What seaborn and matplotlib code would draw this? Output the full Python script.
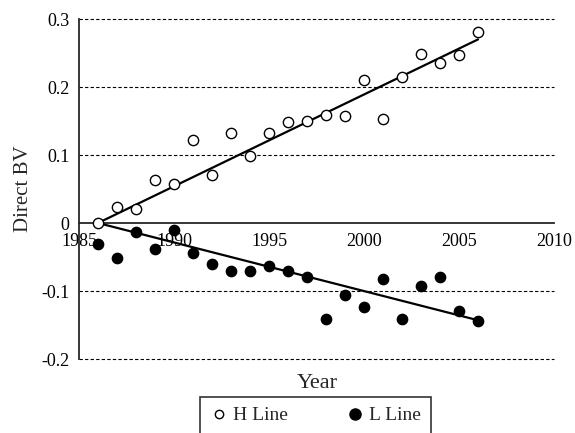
import matplotlib
matplotlib.use("Agg")
import matplotlib.pyplot as plt
import seaborn as sns
import pandas as pd
from matplotlib.lines import Line2D

# data
years = list(range(1986, 2007))
h_line = [0.000, 0.023, 0.021, 0.063, 0.058, 0.122, 0.070, 0.133, 0.099, 0.132,
          0.148, 0.150, 0.159, 0.157, 0.211, 0.153, 0.214, 0.248, 0.236, 0.247, 0.281]
l_line = [-0.031, -0.052, -0.013, -0.038, -0.010, -0.044, -0.061, -0.071, -0.070, -0.063,
          -0.070, -0.079, -0.141, -0.106, -0.123, -0.083, -0.141, -0.092, -0.079, -0.129, -0.144]

trend_years = [1986, 2006]
h_trend = [0.0, 0.270]
l_trend = [0.0, -0.143]

x_ticks = [1985, 1990, 1995, 2000, 2005, 2010]
y_ticks = [-0.2, -0.1, 0.0, 0.1, 0.2, 0.3]
y_tick_labels = ['-0.2', '-0.1', '0', '0.1', '0.2', '0.3']

sns.set_style("white")
plt.rcParams['font.family'] = ['Liberation Serif', 'DejaVu Serif']

df = pd.DataFrame({'Year': years, 'H Line': h_line, 'L Line': l_line})
trend = pd.DataFrame({'Year': trend_years, 'H': h_trend, 'L': l_trend})

fig = plt.figure(figsize=(5.75, 4.33), dpi=100)
ax = fig.add_axes([0.1374, 0.1709, 0.8261, 0.7852])

# dashed gridlines (not at zero, the x axis sits there)
for v in y_ticks:
    if v != 0:
        ax.axhline(v, color='black', lw=0.8, ls=(0, (3, 2)), zorder=0, clip_on=False)

sns.lineplot(data=trend, x='Year', y='H', color='black', lw=1.6, ax=ax, zorder=2)
sns.lineplot(data=trend, x='Year', y='L', color='black', lw=1.6, ax=ax, zorder=2)

sns.scatterplot(data=df, x='Year', y='H Line', s=55, facecolor='white',
                edgecolor='black', linewidth=1.0, ax=ax, zorder=3)
sns.scatterplot(data=df, x='Year', y='L Line', s=55, color='black',
                edgecolor='black', linewidth=1.0, ax=ax, zorder=3)

ax.set_xlim(1985, 2010)
ax.set_ylim(-0.2, 0.3)
ax.set_xticks(x_ticks)
ax.set_yticks(y_ticks)
ax.set_yticklabels(y_tick_labels)

ax.spines['top'].set_visible(False)
ax.spines['right'].set_visible(False)
ax.spines['bottom'].set_position(('data', 0))
ax.spines['bottom'].set_linewidth(1.3)
ax.spines['left'].set_linewidth(1.3)
ax.spines['bottom'].set_zorder(1)
ax.tick_params(axis='both', direction='out', length=4, width=1.2,
               labelsize=13, colors='black')
ax.tick_params(axis='y', pad=3)
ax.tick_params(axis='x', pad=3)

ax.set_xlabel('')
ax.set_ylabel('Direct BV', fontsize=15, labelpad=6)
fig.text(0.551, 0.115, 'Year', fontsize=16, ha='center', va='center')

handles = [
    Line2D([], [], marker='o', ls='none', markersize=6, markerfacecolor='white',
           markeredgecolor='black', markeredgewidth=1.0, label='H Line'),
    Line2D([], [], marker='o', ls='none', markersize=8, markerfacecolor='black',
           markeredgecolor='black', label='L Line'),
]
leg = fig.legend(handles=handles, loc='upper center', bbox_to_anchor=(0.548, 0.083),
                 ncol=2, frameon=True, fancybox=False, edgecolor='black',
                 fontsize=14, handletextpad=0.2, columnspacing=3.0,
                 borderpad=0.5, handlelength=1.0, borderaxespad=0)
leg.get_frame().set_linewidth(1.2)

fig.savefig('out.png', dpi=100)
